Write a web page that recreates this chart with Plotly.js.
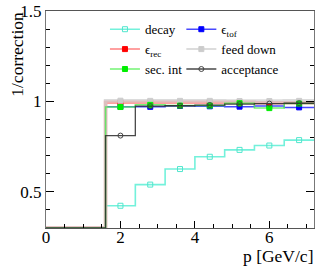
<!DOCTYPE html>
<html><head><meta charset="utf-8">
<script src="https://cdn.plot.ly/plotly-3.0.1.min.js"></script>
<style>html,body{margin:0;padding:0;background:#fff}#c{width:331px;height:272px}</style>
</head><body><div id="c"></div>
<script>
// bin edges (GeV/c)
var binEdges = [0, 0.8, 1.6, 2.4, 3.2, 4.0, 4.8, 5.6, 6.4, 7.2];
var seriesNames = ["decay", "ϵ<sub>tof</sub>", "ϵ<sub>rec</sub>", "feed down", "sec. int", "acceptance"];
var decay      = [0, 0, 0.423, 0.540, 0.626, 0.694, 0.732, 0.756, 0.786];
var effTof     = [0, 0, 0.970, 0.970, 0.975, 0.973, 0.971, 0.975, 0.967];
var effRec     = [0, 0, 0.995, 0.995, 0.995, 0.995, 0.995, 0.993, 0.992];
var feedDown   = [0, 0, 1.004, 1.003, 1.003, 1.003, 1.002, 1.002, 1.003];
var secInt     = [0, 0, 0.969, 0.981, 0.977, 0.977, 0.990, 0.963, 0.988];
var acceptance = [0, 0, 0.811, 0.974, 0.976, 0.980, 0.985, 0.988, 0.990];

var yMin = 0.3, yMax = 1.5;
var styles = [
  {line:"rgba(100,240,215,0.9)", lw:1.6, mk:"rgb(80,230,205)", sym:"square-open", ms:5, lg:"legend"},
  {line:"rgba(40,40,255,0.85)", lw:1.5, mk:"#0000ff", sym:"square", ms:5, lg:"legend2"},
  {line:"rgba(255,120,120,0.7)", lw:3.5, mk:"#ff0000", sym:"square", ms:5, lg:"legend"},
  {line:"rgba(205,205,205,0.7)", lw:3.5, mk:"#cccccc", sym:"square", ms:5, lg:"legend2"},
  {line:"rgba(80,240,80,0.8)", lw:1.5, mk:"#00ee00", sym:"square", ms:5, lg:"legend"},
  {line:"rgba(40,40,40,0.85)", lw:1.3, mk:"#444444", sym:"circle-open", ms:5, lg:"legend2"}
];
var allSeries = [decay, effTof, effRec, feedDown, secInt, acceptance];

var traces = [];
allSeries.forEach(function(vals, i){
  var s = styles[i];
  // step line from bin edges (ROOT draws under-range contents at the frame bottom)
  var xs = binEdges.slice();
  var ys = vals.map(function(v){ return v < yMin ? yMin : v; });
  ys.push(ys[ys.length-1]);
  traces.push({x: xs, y: ys, mode: "lines", line: {shape: "hv", color: s.line, width: s.lw},
               showlegend: false, hoverinfo: "skip"});
  // markers at bin centres of non-empty bins
  var cx = [], cy = [];
  vals.forEach(function(v, j){ if (v > 0) { cx.push((binEdges[j]+binEdges[j+1])/2); cy.push(v); } });
  traces.push({x: cx, y: cy, mode: "markers", showlegend: false,
               marker: {symbol: s.sym, size: s.ms, color: s.mk, line: {color: s.mk, width: 1}}});
  // legend entry
  traces.push({x: [null], y: [null], mode: "lines+markers", name: seriesNames[i], legend: s.lg,
               line: {color: s.line, width: Math.min(s.lw, 2)},
               marker: {symbol: s.sym, size: s.ms, color: s.mk, line: {color: s.mk, width: 1}}});
});

var font = "Liberation Serif, Times New Roman, serif";
var legendBase = {orientation: "v", y: 0.985, xanchor: "left", yanchor: "top",
                  bgcolor: "rgba(0,0,0,0)", font: {family: font, size: 13}, itemwidth: 30};
var layout = {
  width: 331, height: 272,
  margin: {l: 46, r: 17, t: 11, b: 44},
  paper_bgcolor: "#fff", plot_bgcolor: "#fff",
  font: {family: font, size: 17, color: "#000"},
  showlegend: true,
  legend: Object.assign({}, legendBase, {x: 0.22}),
  legend2: Object.assign({}, legendBase, {x: 0.505}),
  xaxis: {range: [0, 7.2], tickvals: [0, 2, 4, 6], ticks: "inside", ticklen: 7,
          tickcolor: "#000", showgrid: false, zeroline: false,
          showline: true, linecolor: "#555", mirror: true,
          minor: {dtick: 0.5, ticks: "inside", ticklen: 4, tickcolor: "#000"},
          tickfont: {size: 17}, ticklabelstandoff: -6},
  yaxis: {range: [yMin, yMax], tickvals: [0.5, 1, 1.5], ticktext: ["0.5", "1", "1.5"],
          ticks: "inside", ticklen: 8, tickcolor: "#000",
          showgrid: false, zeroline: false, showline: true, linecolor: "#777", mirror: "ticks",
          minor: {dtick: 0.1, ticks: "inside", ticklen: 4, tickcolor: "#000"},
          tickfont: {size: 17}},
  annotations: [
    {text: "p [GeV/c]", xref: "paper", yref: "paper", x: 1.005, y: -0.13, xanchor: "right", yanchor: "middle",
     showarrow: false, font: {family: font, size: 17.5}},
    {text: "1/correction", xref: "paper", yref: "paper", x: -0.107, y: 1.005, xanchor: "center", yanchor: "top",
     textangle: -90, showarrow: false, font: {family: font, size: 17.5}}
  ]
};
Plotly.newPlot("c", traces, layout, {staticPlot: true});
</script></body></html>
